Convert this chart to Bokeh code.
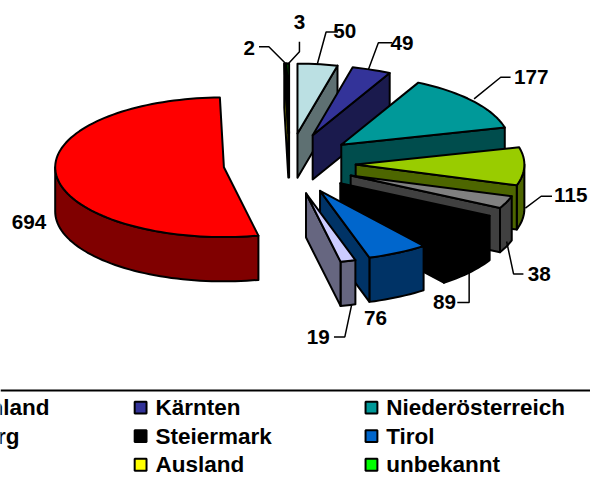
import math
from bokeh.plotting import figure
from bokeh.embed import file_html
from bokeh.resources import INLINE
from bokeh.core.properties import value

# chart data
slice_names = ["Burgenland", "Kärnten", "Niederösterreich", "Oberösterreich", "Salzburg", "Steiermark",
               "Tirol", "Vorarlberg", "Wien", "Ausland", "unbekannt"]
slice_values = [50, 49, 177, 115, 38, 89, 76, 19, 694, 2, 3]
slice_colors = ["#BBE0E3", "#333399", "#009999", "#99CC00", "#808080", "#000000",
                "#0066CC", "#CCCCFF", "#FF0000", "#FFFF00", "#00FF00"]
side_colors = ["#5E7072", "#1A1A4D", "#004D4D", "#4D6600", "#404040", "#000000",
               "#003366", "#666680", "#800000", "#808000", "#008000"]

# projection of the exploded pie, in reference pixels
W, H = 598, 487
MARGIN = 8
CX, CY = 293.0, 166.0
RX, RY = 171.0, 71.0
EX, EY = 67.0, 31.0
DEPTH = 45.0

p = figure(width=W - MARGIN, height=H - MARGIN, x_range=(0, W), y_range=(H, 0), toolbar_location=None,
           output_backend="svg", min_border=0, outline_line_color=None)
p.xaxis.visible = False
p.yaxis.visible = False
p.grid.visible = False
p.background_fill_color = "white"


def pt(apex, a, dz=0.0):
    r = math.radians(a)
    return apex[0] + RX * math.sin(r), apex[1] - RY * math.cos(r) + dz


def arc(apex, a0, a1, dz=0.0):
    n = max(2, int(abs(a1 - a0) / 2) + 2)
    return [pt(apex, a0 + (a1 - a0) * i / (n - 1), dz) for i in range(n)]


total = sum(slice_values)
angle = 0.0
slices = []
for name, val, col, side in zip(slice_names, slice_values, slice_colors, side_colors):
    a0, a1 = angle, angle + val / total * 360
    angle = a1
    mid = math.radians((a0 + a1) / 2)
    apex = (CX + EX * math.sin(mid), CY - EY * math.cos(mid))
    slices.append((apex, a0, a1, col, side, name))

xs, ys, fills = [], [], []


def add(points, color):
    xs.append([q[0] for q in points])
    ys.append([q[1] for q in points])
    fills.append(color)


for apex, a0, a1, col, side, name in sorted(slices, key=lambda s: s[0][1]):
    # rim, visible on the front half
    lo, hi = max(a0, 90), min(a1, 270)
    if lo < hi:
        top = arc(apex, lo, hi)
        add(top + arc(apex, hi, lo, DEPTH), side)
    # radial walls
    for a, ok in ((a1, math.sin(math.radians(a1)) > 0), (a0, math.sin(math.radians(a0)) < 0)):
        if ok:
            e = pt(apex, a)
            add([apex, e, (e[0], e[1] + DEPTH), (apex[0], apex[1] + DEPTH)], side)
    # top face
    add([apex] + arc(apex, a0, a1), col)

p.patches(xs, ys, fill_color=fills, line_color="black", line_width=2, line_join="round")

# data labels with elbow leaders
LABEL_FONT = value("Liberation Sans")
label_values = [2, 3, 50, 49, 177, 115, 38, 89, 76, 19, 694]
label_x = [252, 303, 349, 407, 538, 578, 546, 450, 380, 322, 29]
label_y = [48, 22, 31, 43, 78, 198, 278, 307, 323, 342, 225]
leaders_x = [[262, 272, 290], [303, 303, 291], [342, 330, 321], [397, 383, 373], [517, 507, 480],
             [559, 548, 532], [530, 520, 513], [463, 475, 475], [338, 349, 356]]
leaders_y = [[47, 47, 65], [42, 52, 65], [32, 32, 65], [43, 43, 70], [78, 78, 100],
             [199, 199, 211], [278, 278, 245], [307, 307, 275], [342, 342, 309]]
p.multi_line(leaders_x, leaders_y, line_color="black", line_width=1.5)
p.text(label_x, label_y, text=[str(v) for v in label_values], text_font=LABEL_FONT, text_font_style="bold",
       text_font_size="20.7px", text_align="center", text_baseline="middle", text_color="black")

# legend (the frame crops it on both sides)
p.segment([0], [396.5], [W], [396.5], line_color="black", line_width=2)
legend_names = ["Burgenland", "Kärnten", "Niederösterreich", "Salzburg", "Steiermark", "Tirol", "Ausland", "unbekannt"]
legend_cols = [0, 1, 2, 0, 1, 2, 1, 2]
legend_rows = [0, 0, 0, 1, 1, 1, 2, 2]
col_x = [-98, 136, 370]
row_y = [414, 443, 472]
color_of = dict(zip(slice_names, slice_colors))
lx = [col_x[c] for c in legend_cols]
ly = [row_y[r] for r in legend_rows]
p.rect([x + 6 for x in lx], ly, width=12, height=12, fill_color=[color_of[n] for n in legend_names],
       line_color="black", line_width=2)
p.text([x + 21 for x in lx], ly, text=legend_names, text_font=LABEL_FONT, text_font_style="bold",
       text_font_size="22.5px", text_align="left", text_baseline="middle", text_color="black")

open("out.html", "w").write(file_html(p, INLINE))
